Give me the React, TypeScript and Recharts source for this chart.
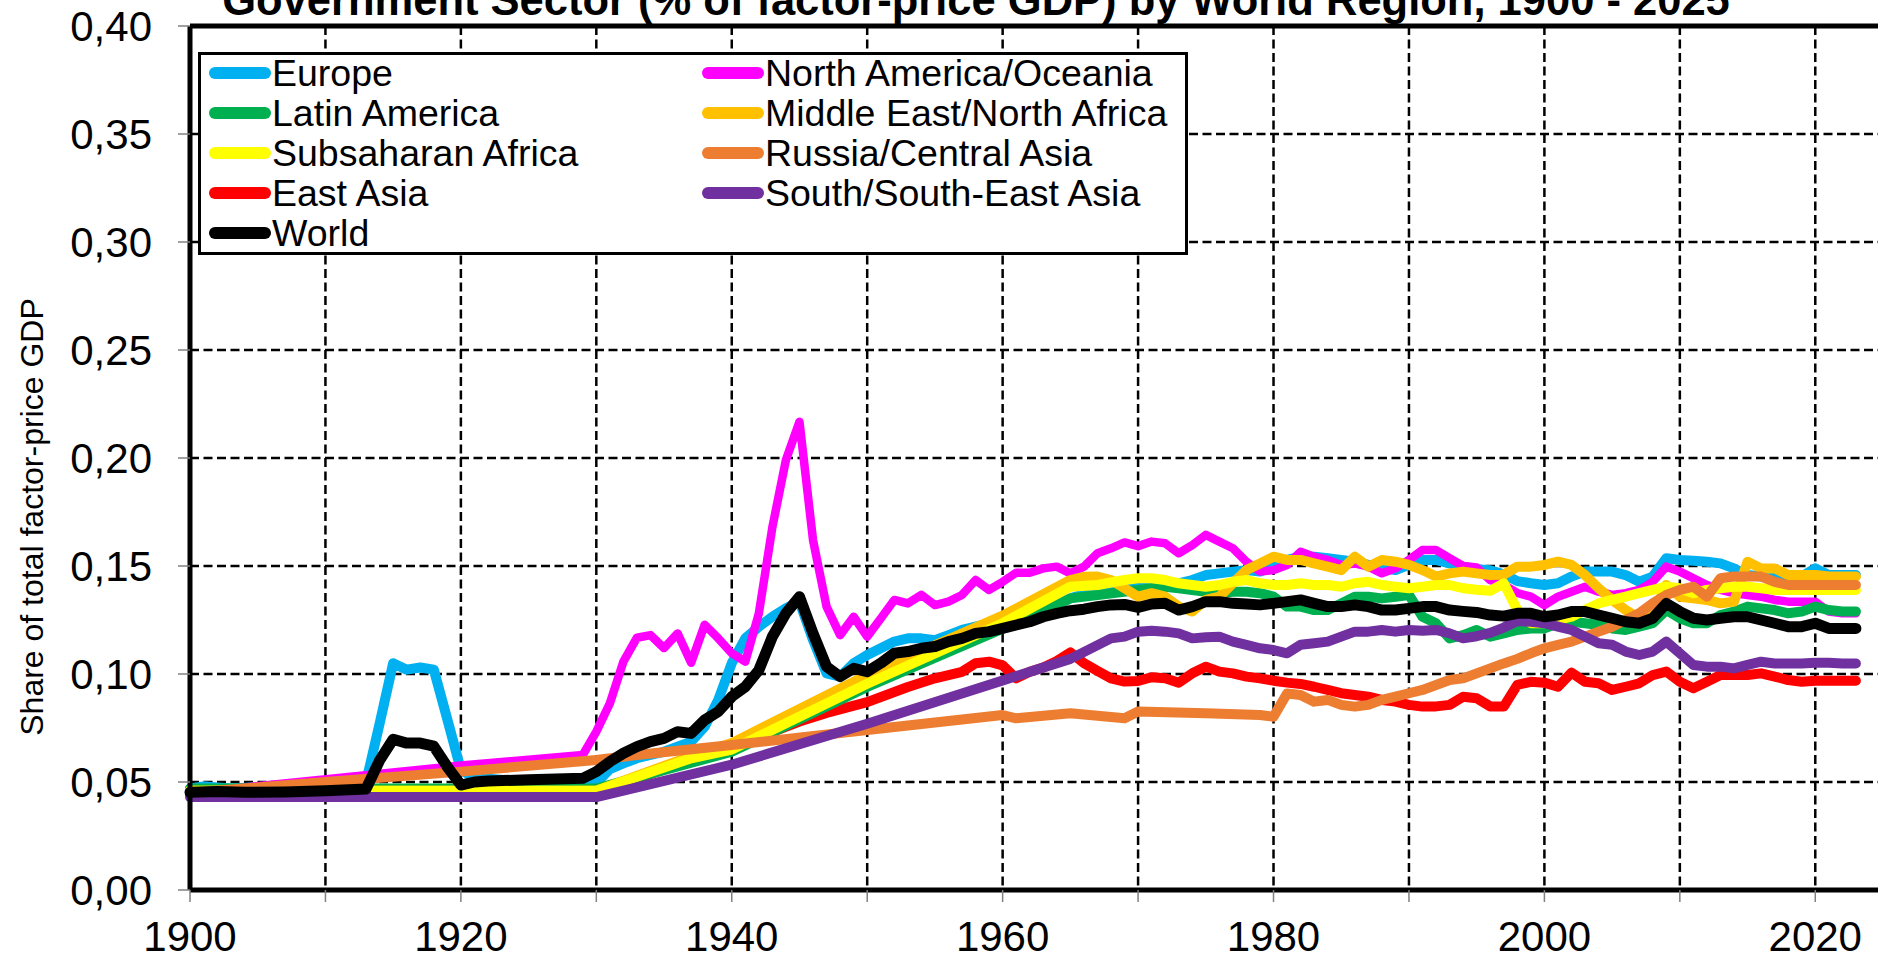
import React from 'react';
import { LineChart, Line, XAxis, YAxis, CartesianGrid, ReferenceLine } from 'recharts';

// [year, share of total factor-price GDP]
const europe: [number, number][] = [
  [1900, 0.047], [1901, 0.048], [1902, 0.0475], [1903, 0.047], [1913, 0.05], [1914, 0.077], [1915, 0.105],
  [1916, 0.102], [1917, 0.103], [1918, 0.102], [1919, 0.079], [1920, 0.0556], [1921, 0.052], [1922, 0.0515],
  [1925, 0.05], [1929, 0.05], [1930, 0.0495], [1931, 0.056], [1932, 0.0586], [1933, 0.061], [1934, 0.0625],
  [1935, 0.064], [1936, 0.0664], [1937, 0.0687], [1938, 0.0756], [1939, 0.088], [1940, 0.105], [1941, 0.1165],
  [1942, 0.1219], [1943, 0.1265], [1944, 0.1304], [1945, 0.1335], [1946, 0.1157], [1947, 0.1003], [1948, 0.0988],
  [1949, 0.105], [1950, 0.1088], [1951, 0.1119], [1952, 0.115], [1953, 0.1165], [1954, 0.1165], [1955, 0.1157],
  [1956, 0.118], [1957, 0.1204], [1960, 0.125], [1963, 0.131], [1966, 0.137], [1968, 0.14], [1970, 0.141],
  [1972, 0.141], [1973, 0.142], [1974, 0.1435], [1975, 0.1458], [1976, 0.1466], [1977, 0.1474], [1978, 0.1481],
  [1979, 0.1474], [1980, 0.1497], [1981, 0.1528], [1982, 0.1543], [1983, 0.1543], [1984, 0.1536], [1985, 0.1528],
  [1986, 0.152], [1987, 0.1505], [1988, 0.1489], [1989, 0.1481], [1990, 0.1505], [1991, 0.1528], [1992, 0.1528],
  [1993, 0.1512], [1994, 0.1497], [1995, 0.1485], [1996, 0.148], [1997, 0.1462], [1998, 0.143], [1999, 0.142],
  [2000, 0.1412], [2001, 0.142], [2002, 0.1451], [2003, 0.1474], [2004, 0.1474], [2005, 0.1474], [2006, 0.1458],
  [2007, 0.1427], [2008, 0.1451], [2009, 0.1536], [2010, 0.1528], [2011, 0.1524], [2012, 0.152], [2013, 0.1512],
  [2014, 0.1489], [2015, 0.1458], [2016, 0.1451], [2017, 0.1443], [2018, 0.1443], [2019, 0.1451], [2020, 0.1489],
  [2021, 0.1458], [2022, 0.1458], [2023, 0.1458],
];

const northAmerica: [number, number][] = [
  [1900, 0.045], [1903, 0.0468], [1920, 0.0576], [1929, 0.0625], [1930, 0.0733], [1931, 0.0864], [1932, 0.1057],
  [1933, 0.1168], [1934, 0.118], [1935, 0.112], [1936, 0.1188], [1937, 0.1052], [1938, 0.1228], [1939, 0.1165],
  [1940, 0.1096], [1941, 0.1057], [1942, 0.1281], [1943, 0.168], [1944, 0.1991], [1945, 0.2168], [1946, 0.162],
  [1947, 0.1312], [1948, 0.118], [1949, 0.1265], [1950, 0.1173], [1951, 0.1257], [1952, 0.1343], [1953, 0.1327],
  [1954, 0.1366], [1955, 0.1319], [1956, 0.1335], [1957, 0.1366], [1958, 0.1435], [1959, 0.1389], [1960, 0.1427],
  [1961, 0.1469], [1962, 0.1469], [1963, 0.1489], [1964, 0.1497], [1965, 0.1466], [1966, 0.1497], [1967, 0.1559],
  [1968, 0.1582], [1969, 0.1609], [1970, 0.1592], [1971, 0.1613], [1972, 0.1605], [1973, 0.1559], [1974, 0.1597],
  [1975, 0.1644], [1976, 0.1613], [1977, 0.1582], [1978, 0.152], [1979, 0.1474], [1980, 0.1481], [1981, 0.1505],
  [1982, 0.1566], [1983, 0.1543], [1984, 0.1528], [1985, 0.1505], [1986, 0.1512], [1987, 0.1497], [1988, 0.1466],
  [1989, 0.1489], [1990, 0.1528], [1991, 0.1574], [1992, 0.1574], [1993, 0.1536], [1994, 0.15], [1995, 0.1493],
  [1996, 0.1435], [1997, 0.1412], [1998, 0.1375], [1999, 0.1358], [2000, 0.1319], [2001, 0.1358], [2002, 0.1381],
  [2003, 0.1404], [2004, 0.1381], [2005, 0.1366], [2006, 0.1374], [2007, 0.1389], [2008, 0.1427], [2009, 0.1497],
  [2010, 0.1474], [2011, 0.1443], [2012, 0.1412], [2013, 0.1389], [2014, 0.1374], [2015, 0.1366], [2016, 0.1358],
  [2017, 0.1343], [2018, 0.1335], [2019, 0.1335], [2020, 0.1335], [2021, 0.1289], [2022, 0.1281], [2023, 0.1281],
];

const latinAmerica: [number, number][] = [
  [1900, 0.047], [1930, 0.047], [1940, 0.064], [1950, 0.094], [1960, 0.121], [1962, 0.126], [1965, 0.135],
  [1967, 0.1366], [1970, 0.1389], [1971, 0.1397], [1972, 0.1404], [1973, 0.1397], [1974, 0.1389], [1975, 0.1381],
  [1976, 0.1374], [1977, 0.1381], [1978, 0.1381], [1979, 0.1374], [1980, 0.1358], [1981, 0.1312], [1982, 0.1312],
  [1983, 0.1296], [1984, 0.1296], [1985, 0.1327], [1986, 0.1358], [1987, 0.1358], [1988, 0.135], [1989, 0.1358],
  [1990, 0.1366], [1991, 0.1265], [1992, 0.1235], [1993, 0.1165], [1994, 0.118], [1995, 0.1204], [1996, 0.1173],
  [1997, 0.1188], [1998, 0.1204], [1999, 0.1211], [2000, 0.1211], [2001, 0.1235], [2002, 0.1242], [2003, 0.1235],
  [2004, 0.1227], [2005, 0.1211], [2006, 0.1204], [2007, 0.1219], [2008, 0.1235], [2009, 0.1296], [2010, 0.1258],
  [2011, 0.1235], [2012, 0.1235], [2013, 0.1273], [2014, 0.1289], [2015, 0.1312], [2016, 0.1304], [2017, 0.1296],
  [2018, 0.1281], [2019, 0.1289], [2020, 0.1312], [2021, 0.1296], [2022, 0.1289], [2023, 0.1289],
];

const middleEast: [number, number][] = [
  [1900, 0.046], [1930, 0.046], [1937, 0.062], [1940, 0.068], [1950, 0.0995], [1960, 0.127], [1965, 0.1435],
  [1966, 0.145], [1967, 0.1451], [1968, 0.1435], [1969, 0.1397], [1970, 0.1358], [1971, 0.1374], [1972, 0.1358],
  [1973, 0.1312], [1974, 0.1289], [1975, 0.1343], [1976, 0.1358], [1977, 0.142], [1978, 0.1481], [1979, 0.1512],
  [1980, 0.1543], [1981, 0.1528], [1982, 0.1528], [1983, 0.1512], [1984, 0.1497], [1985, 0.1481], [1986, 0.1543],
  [1987, 0.1497], [1988, 0.1528], [1989, 0.152], [1990, 0.1505], [1991, 0.1481], [1992, 0.1451], [1993, 0.1466],
  [1994, 0.1474], [1995, 0.1466], [1996, 0.1458], [1997, 0.146], [1998, 0.1497], [1999, 0.1497], [2000, 0.1505],
  [2001, 0.152], [2002, 0.1505], [2003, 0.1458], [2004, 0.1397], [2005, 0.1343], [2006, 0.1296], [2007, 0.1258],
  [2008, 0.127], [2009, 0.1412], [2010, 0.1358], [2011, 0.135], [2012, 0.1343], [2013, 0.1327], [2014, 0.1335],
  [2015, 0.152], [2016, 0.1489], [2017, 0.1489], [2018, 0.1458], [2019, 0.1458], [2020, 0.1458], [2021, 0.1451],
  [2022, 0.1451], [2023, 0.1451],
];

const subsaharan: [number, number][] = [
  [1900, 0.046], [1930, 0.046], [1937, 0.061], [1940, 0.065], [1950, 0.0955], [1960, 0.1235], [1965, 0.1404],
  [1967, 0.1412], [1969, 0.1435], [1970, 0.1443], [1971, 0.1443], [1972, 0.1435], [1973, 0.142], [1974, 0.1412],
  [1975, 0.1404], [1976, 0.1412], [1977, 0.1427], [1978, 0.1435], [1979, 0.142], [1980, 0.1412], [1981, 0.1412],
  [1982, 0.142], [1983, 0.1412], [1984, 0.1412], [1985, 0.1404], [1986, 0.142], [1987, 0.1427], [1988, 0.1412],
  [1989, 0.1404], [1990, 0.1397], [1991, 0.1404], [1992, 0.1412], [1993, 0.1412], [1994, 0.1397], [1995, 0.139],
  [1996, 0.1385], [1997, 0.142], [1998, 0.1296], [1999, 0.1235], [2000, 0.1235], [2001, 0.125], [2002, 0.1265],
  [2003, 0.1296], [2004, 0.1327], [2005, 0.1343], [2006, 0.1358], [2007, 0.1374], [2008, 0.1389], [2009, 0.1404],
  [2010, 0.1397], [2011, 0.1374], [2012, 0.1389], [2013, 0.1397], [2014, 0.1404], [2015, 0.1404], [2016, 0.1397],
  [2017, 0.1389], [2018, 0.1389], [2019, 0.1389], [2020, 0.1389], [2021, 0.1389], [2022, 0.1389], [2023, 0.1389],
];

const russia: [number, number][] = [
  [1900, 0.045], [1910, 0.05], [1920, 0.0548], [1930, 0.0602], [1933, 0.0625], [1940, 0.0671], [1950, 0.0741],
  [1960, 0.081], [1961, 0.0795], [1965, 0.0818], [1969, 0.0795], [1970, 0.0826], [1975, 0.0818], [1979, 0.081],
  [1980, 0.0802], [1981, 0.091], [1982, 0.0903], [1983, 0.0872], [1984, 0.088], [1985, 0.0857], [1986, 0.0849],
  [1987, 0.0857], [1988, 0.088], [1989, 0.0895], [1990, 0.0911], [1991, 0.0926], [1992, 0.0949], [1993, 0.0972],
  [1994, 0.098], [1995, 0.1003], [1996, 0.1026], [1997, 0.1049], [1998, 0.107], [1999, 0.1096], [2000, 0.1119],
  [2001, 0.1135], [2002, 0.115], [2003, 0.1173], [2004, 0.1196], [2005, 0.1219], [2006, 0.125], [2007, 0.1281],
  [2008, 0.1327], [2009, 0.1366], [2010, 0.1389], [2011, 0.1404], [2012, 0.1358], [2013, 0.1443], [2014, 0.1451],
  [2015, 0.1451], [2016, 0.1451], [2017, 0.1427], [2018, 0.1412], [2019, 0.1412], [2020, 0.1412], [2021, 0.1412],
  [2022, 0.1412], [2023, 0.1412],
];

const eastAsia: [number, number][] = [
  [1900, 0.0455], [1930, 0.0455], [1940, 0.066], [1945, 0.078], [1947, 0.082], [1950, 0.087], [1953, 0.094],
  [1955, 0.098], [1957, 0.101], [1958, 0.105], [1959, 0.1057], [1960, 0.104], [1961, 0.098], [1962, 0.101],
  [1963, 0.103], [1964, 0.106], [1965, 0.11], [1966, 0.105], [1967, 0.1015], [1968, 0.098], [1969, 0.0965],
  [1970, 0.0968], [1971, 0.0985], [1972, 0.098], [1973, 0.096], [1974, 0.1003], [1975, 0.1034], [1976, 0.1011],
  [1977, 0.1003], [1978, 0.0988], [1979, 0.098], [1980, 0.0969], [1981, 0.096], [1982, 0.0954], [1983, 0.0941],
  [1984, 0.0926], [1985, 0.0911], [1986, 0.0903], [1987, 0.0895], [1988, 0.088], [1989, 0.0872], [1990, 0.0857],
  [1991, 0.0849], [1992, 0.085], [1993, 0.0857], [1994, 0.0895], [1995, 0.0888], [1996, 0.085], [1997, 0.0849],
  [1998, 0.095], [1999, 0.0964], [2000, 0.096], [2001, 0.0941], [2002, 0.1006], [2003, 0.0964], [2004, 0.0957],
  [2005, 0.0926], [2006, 0.0941], [2007, 0.0957], [2008, 0.0995], [2009, 0.1011], [2010, 0.0964], [2011, 0.0934],
  [2012, 0.0964], [2013, 0.0995], [2014, 0.0995], [2015, 0.0995], [2016, 0.1003], [2017, 0.0988], [2018, 0.0972],
  [2019, 0.0964], [2020, 0.0969], [2021, 0.0969], [2022, 0.0969], [2023, 0.0969],
];

const southAsia: [number, number][] = [
  [1900, 0.043], [1930, 0.043], [1940, 0.058], [1950, 0.077], [1960, 0.097], [1965, 0.107], [1968, 0.1165],
  [1969, 0.1173], [1970, 0.1196], [1971, 0.12], [1972, 0.1196], [1973, 0.1188], [1974, 0.1165], [1975, 0.117],
  [1976, 0.1173], [1977, 0.115], [1978, 0.1135], [1979, 0.1119], [1980, 0.1111], [1981, 0.1096], [1982, 0.1135],
  [1983, 0.1142], [1984, 0.115], [1985, 0.1173], [1986, 0.1196], [1987, 0.1196], [1988, 0.1204], [1989, 0.1196],
  [1990, 0.1204], [1991, 0.12], [1992, 0.1204], [1993, 0.1188], [1994, 0.1165], [1995, 0.1175], [1996, 0.119],
  [1997, 0.1215], [1998, 0.1245], [1999, 0.1242], [2000, 0.1235], [2001, 0.1219], [2002, 0.1204], [2003, 0.1173],
  [2004, 0.1142], [2005, 0.1135], [2006, 0.1104], [2007, 0.1088], [2008, 0.1104], [2009, 0.115], [2010, 0.1096],
  [2011, 0.1042], [2012, 0.1034], [2013, 0.1034], [2014, 0.1026], [2015, 0.1042], [2016, 0.1057], [2017, 0.1049],
  [2018, 0.1049], [2019, 0.1049], [2020, 0.1052], [2021, 0.1052], [2022, 0.1049], [2023, 0.1049],
];

const world: [number, number][] = [
  [1900, 0.0452], [1902, 0.0456], [1904, 0.0452], [1907, 0.0454], [1910, 0.046], [1913, 0.0468], [1914, 0.06],
  [1915, 0.0698], [1916, 0.068], [1917, 0.068], [1918, 0.0666], [1919, 0.057], [1920, 0.0486], [1921, 0.05],
  [1922, 0.0505], [1925, 0.051], [1929, 0.0517], [1930, 0.0548], [1931, 0.0594], [1932, 0.0633], [1933, 0.0664],
  [1934, 0.0687], [1935, 0.0702], [1936, 0.0733], [1937, 0.0725], [1938, 0.0787], [1939, 0.0826], [1940, 0.0895],
  [1941, 0.0941], [1942, 0.1018], [1943, 0.1173], [1944, 0.1281], [1945, 0.1358], [1946, 0.1188], [1947, 0.1034],
  [1948, 0.0988], [1949, 0.1026], [1950, 0.1011], [1951, 0.105], [1952, 0.1096], [1953, 0.1104], [1954, 0.1119],
  [1955, 0.1127], [1956, 0.115], [1957, 0.1165], [1958, 0.1188], [1959, 0.1196], [1960, 0.1211], [1961, 0.1227],
  [1962, 0.1242], [1963, 0.1265], [1964, 0.1281], [1965, 0.1293], [1966, 0.13], [1967, 0.1312], [1968, 0.132],
  [1969, 0.1322], [1970, 0.1308], [1971, 0.1324], [1972, 0.1327], [1973, 0.1296], [1974, 0.1312], [1975, 0.1335],
  [1976, 0.1335], [1977, 0.1327], [1978, 0.1324], [1979, 0.132], [1980, 0.1327], [1981, 0.1335], [1982, 0.1343],
  [1983, 0.1327], [1984, 0.1312], [1985, 0.1312], [1986, 0.132], [1987, 0.1312], [1988, 0.1296], [1989, 0.1296],
  [1990, 0.1304], [1991, 0.1312], [1992, 0.1312], [1993, 0.1296], [1994, 0.129], [1995, 0.1285], [1996, 0.1273],
  [1997, 0.1268], [1998, 0.1281], [1999, 0.1281], [2000, 0.1265], [2001, 0.1273], [2002, 0.1289], [2003, 0.1289],
  [2004, 0.1273], [2005, 0.1258], [2006, 0.1242], [2007, 0.1235], [2008, 0.1258], [2009, 0.1327], [2010, 0.1289],
  [2011, 0.1258], [2012, 0.125], [2013, 0.1258], [2014, 0.1265], [2015, 0.1265], [2016, 0.125], [2017, 0.1235],
  [2018, 0.1219], [2019, 0.1219], [2020, 0.1235], [2021, 0.1211], [2022, 0.1211], [2023, 0.1211],
];

const xTicks = [1900, 1910, 1920, 1930, 1940, 1950, 1960, 1970, 1980, 1990, 2000, 2010, 2020];
const yTicks = [0, 0.05, 0.1, 0.15, 0.2, 0.25, 0.3, 0.35, 0.4];

const FONT = '"Liberation Sans", Arial, Helvetica, sans-serif';

const series = {
  europe: { name: 'Europe', color: '#00B0F0', points: europe, width: 10 },
  northAmerica: { name: 'North America/Oceania', color: '#FF00FF', points: northAmerica, width: 8.5 },
  latinAmerica: { name: 'Latin America', color: '#00B050', points: latinAmerica, width: 10 },
  middleEast: { name: 'Middle East/North Africa', color: '#FFC000', points: middleEast, width: 10 },
  subsaharan: { name: 'Subsaharan Africa', color: '#FFFF00', points: subsaharan, width: 10 },
  russia: { name: 'Russia/Central Asia', color: '#ED7D31', points: russia, width: 10 },
  eastAsia: { name: 'East Asia', color: '#FF0000', points: eastAsia, width: 10 },
  southAsia: { name: 'South/South-East Asia', color: '#7030A0', points: southAsia, width: 10 },
  world: { name: 'World', color: '#000000', points: world, width: 11 },
};

// legend is filled row-wise in two columns
const legendOrder = [
  series.europe, series.northAmerica, series.latinAmerica, series.middleEast, series.subsaharan,
  series.russia, series.eastAsia, series.southAsia, series.world,
];

// later ones are drawn on top
const drawOrder = [
  series.europe, series.eastAsia, series.northAmerica, series.latinAmerica, series.middleEast,
  series.subsaharan, series.russia, series.southAsia, series.world,
];

const fmtY = (v: number) => v.toFixed(2).replace('.', ',');
const fmtX = (v: number) => (v % 20 === 0 ? String(v) : '');

const ChartLegend = () => (
  <div
    style={{
      position: 'absolute',
      left: 198,
      top: 52,
      width: 990,
      height: 203,
      boxSizing: 'border-box',
      border: '3px solid #000',
      background: '#fff',
    }}
  >
    {legendOrder.map((s, i) => {
      const col = i % 2;
      const row = Math.floor(i / 2);
      return (
        <div
          key={s.name}
          style={{
            position: 'absolute',
            left: col === 0 ? 8 : 501,
            top: row * 40 - 2,
            height: 40,
            display: 'flex',
            alignItems: 'center',
            whiteSpace: 'nowrap',
            fontFamily: FONT,
            fontSize: 37.5,
            color: '#000',
          }}
        >
          <svg width={62} height={20} style={{ flex: 'none' }}>
            <line x1={6} y1={10} x2={56} y2={10} stroke={s.color} strokeWidth={12} strokeLinecap="round" />
          </svg>
          <span style={{ lineHeight: '40px', marginLeft: 1 }}>{s.name}</span>
        </div>
      );
    })}
  </div>
);

const App: React.FC = () => {
  const tickStyle = { fontSize: 42, fill: '#000', fontFamily: FONT };
  return (
    <div
      style={{
        position: 'absolute',
        left: 0,
        top: 0,
        width: 1878,
        height: 960,
        overflow: 'hidden',
        background: '#fff',
        fontFamily: FONT,
      }}
    >
      <LineChart width={1883} height={960} margin={{ top: 26, right: 0, bottom: 0, left: 0 }}>
        <CartesianGrid stroke="#000" strokeWidth={2.5} strokeDasharray="9 4.5" />
        <XAxis
          dataKey="year"
          type="number"
          domain={[1900, 2025]}
          ticks={xTicks}
          interval={0}
          tickFormatter={fmtX}
          height={70}
          tickSize={12}
          tickMargin={19}
          tick={tickStyle}
          tickLine={{ stroke: '#808080', strokeWidth: 1.5 }}
          axisLine={{ stroke: '#000', strokeWidth: 5 }}
          allowDuplicatedCategory={false}
        />
        <YAxis
          type="number"
          domain={[0, 0.4]}
          ticks={yTicks}
          interval={0}
          tickFormatter={fmtY}
          width={190}
          tickSize={12}
          tickMargin={26}
          tick={tickStyle}
          tickLine={{ stroke: '#808080', strokeWidth: 1.5 }}
          axisLine={{ stroke: '#000', strokeWidth: 5 }}
          label={{
            content: () => (
              <text
                x={43}
                y={517}
                transform="rotate(-90, 43, 517)"
                textAnchor="middle"
                fontSize={32}
                fontFamily={FONT}
                fill="#000"
              >
                Share of total factor-price GDP
              </text>
            ),
          }}
        />
        <ReferenceLine y={0.4} stroke="#000" strokeWidth={5} />
        {drawOrder.map((s) => (
          <Line
            key={s.name}
            name={s.name}
            data={s.points.map(([year, value]) => ({ year, value }))}
            dataKey="value"
            type="linear"
            stroke={s.color}
            strokeWidth={s.width}
            strokeLinejoin="round"
            strokeLinecap="round"
            dot={false}
            activeDot={false}
            isAnimationActive={false}
          />
        ))}
      </LineChart>
      <div
        style={{
          position: 'absolute',
          left: 976,
          top: -21,
          transform: 'translateX(-50%)',
          whiteSpace: 'nowrap',
          fontFamily: FONT,
          fontWeight: 'bold',
          fontSize: 43.5,
          lineHeight: '43.5px',
          color: '#000',
        }}
      >
        Government Sector (% of factor-price GDP) by World Region, 1900 - 2025
      </div>
      <ChartLegend />
    </div>
  );
};

export default App;
